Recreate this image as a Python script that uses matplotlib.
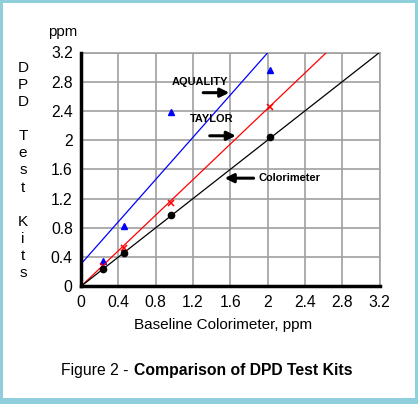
"""
Comparison of DPD test kits against the baseline colorimeter.
"""

import matplotlib
matplotlib.use('Agg')
import matplotlib.pyplot as plt
from matplotlib.patches import Rectangle
import numpy as np

plt.rcParams['font.family'] = ['Liberation Sans', 'DejaVu Sans']

# Data
baseline = [0.24, 0.46, 0.97, 2.03]
colorimeter = [0.24, 0.46, 0.97, 2.04]
taylor = [0.28, 0.53, 1.14, 2.46]
aquality = [0.35, 0.83, 2.38, 2.96]

# Trend lines (slope, intercept)
fit_colorimeter = (1.0, 0.0)
fit_taylor = (1.216, 0.0)
fit_aquality = (1.445, 0.305)

ticks = [0, 0.4, 0.8, 1.2, 1.6, 2, 2.4, 2.8, 3.2]
tick_labels = ['0', '0.4', '0.8', '1.2', '1.6', '2', '2.4', '2.8', '3.2']

fig = plt.figure(figsize=(4.18, 4.04), dpi=100)
fig.patch.set_facecolor('#8fcfdc')
W, H = 418, 404
fig.patches.append(Rectangle((3 / W, 6 / H), (W - 6) / W, (H - 9) / H,
                             transform=fig.transFigure, facecolor='white',
                             edgecolor='none', zorder=-5))

ax = fig.add_axes([81 / W, 1 - 286.3 / H, (379.5 - 81) / W, (286.3 - 52.5) / H])
ax.set_facecolor('white')

xs = np.array([0, 3.2])
for (m, b), c in [(fit_aquality, 'blue'), (fit_taylor, 'red'), (fit_colorimeter, 'black')]:
    ax.plot(xs, m * xs + b, color=c, lw=0.9, zorder=3)

ax.plot(baseline, aquality, '^', color='blue', ms=4.5, ls='none', zorder=4)
ax.plot(baseline, taylor, 'x', color='red', ms=5, mew=1.1, ls='none', zorder=4)
ax.plot(baseline, colorimeter, 'o', color='black', ms=4.5, ls='none', zorder=4)

ax.set_xlim(0, 3.2)
ax.set_ylim(0, 3.2)
ax.set_xticks(ticks)
ax.set_xticklabels(tick_labels)
ax.set_yticks(ticks)
ax.set_yticklabels(tick_labels)
ax.tick_params(length=0, labelsize=11.3, pad=6)
ax.grid(True, color='#a0a0a0', lw=1.2)
ax.set_axisbelow(True)
for s in ['top', 'right']:
    ax.spines[s].set_color('#a0a0a0')
    ax.spines[s].set_linewidth(1.2)
for s in ['left', 'bottom']:
    ax.spines[s].set_color('black')
    ax.spines[s].set_linewidth(2.5)
    ax.spines[s].set_zorder(5)

fig.text(223 / W, 1 - 325 / H, 'Baseline Colorimeter, ppm', ha='center', va='center',
         fontsize=11)

# Labels with arrows
arrow = dict(arrowstyle='-|>', lw=2.2, color='black', mutation_scale=13, shrinkA=0, shrinkB=0)
ax.text(0.975, 2.80, 'AQUALITY', fontsize=7.9, fontweight='bold', va='center')
ax.annotate('', xy=(1.59, 2.65), xytext=(1.31, 2.65), arrowprops=arrow)
ax.text(1.17, 2.29, 'TAYLOR', fontsize=7.9, fontweight='bold', va='center')
ax.annotate('', xy=(1.66, 2.06), xytext=(1.38, 2.06), arrowprops=arrow)
ax.annotate('', xy=(1.54, 1.48), xytext=(1.85, 1.48), arrowprops=arrow)
ax.text(1.90, 1.48, 'Colorimeter', fontsize=7.9, fontweight='bold', va='center')

# Vertical stacked y label
fig.text(23 / W, 1 - 170.5 / H, '\n'.join('DPD Test Kits'),
         ha='center', va='center', fontsize=11, linespacing=1.28)
fig.text(63 / W, 1 - 32 / H, 'ppm', ha='center', va='center', fontsize=10.8)

# Caption
fig.text(61 / W, 1 - 370 / H, 'Figure 2 - ', ha='left', va='center', fontsize=11.3)
fig.text(134 / W, 1 - 370 / H, 'Comparison of DPD Test Kits', ha='left', va='center',
         fontsize=11.3, fontweight='bold')

fig.savefig('out.png', dpi=100, facecolor=fig.get_facecolor())
